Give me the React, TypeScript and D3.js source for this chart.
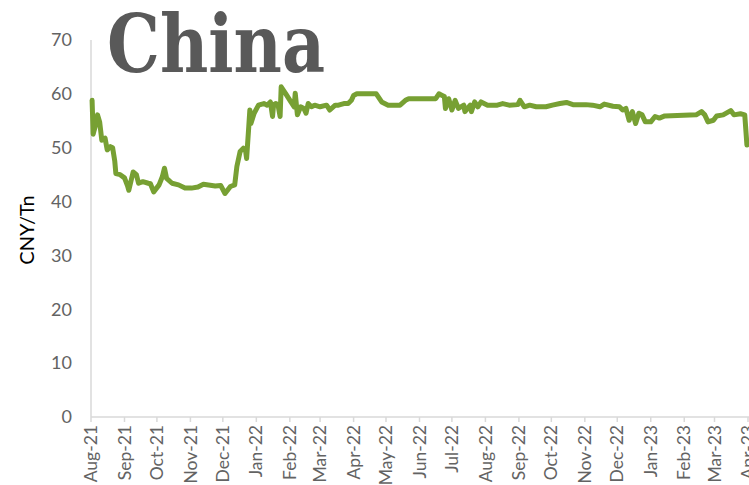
import React from "react";
import * as d3 from "d3";

const dates: string[] = [
  "2021-08-02","2021-08-03","2021-08-04","2021-08-05","2021-08-07","2021-08-09","2021-08-11","2021-08-14","2021-08-16","2021-08-19","2021-08-21","2021-08-23","2021-08-24","2021-08-28",
  "2021-09-01","2021-09-04","2021-09-05","2021-09-09","2021-09-12","2021-09-14","2021-09-18","2021-09-23","2021-09-25","2021-09-28",
  "2021-10-03","2021-10-06","2021-10-08","2021-10-10","2021-10-15","2021-10-21","2021-10-27",
  "2021-11-02","2021-11-08","2021-11-13","2021-11-24","2021-11-29",
  "2021-12-03","2021-12-08","2021-12-12","2021-12-14","2021-12-17","2021-12-20","2021-12-22","2021-12-23","2021-12-25","2021-12-26","2021-12-27","2021-12-30",
  "2022-01-03","2022-01-08","2022-01-11","2022-01-14","2022-01-16","2022-01-17","2022-01-19","2022-01-21","2022-01-23","2022-01-24","2022-01-28",
  "2022-02-02","2022-02-05","2022-02-06","2022-02-08","2022-02-11","2022-02-14","2022-02-16","2022-02-18","2022-02-21","2022-02-24",
  "2022-03-01","2022-03-07","2022-03-10","2022-03-15","2022-03-18","2022-03-23","2022-03-27","2022-03-30",
  "2022-04-01","2022-04-04","2022-04-22","2022-04-27",
  "2022-05-03","2022-05-14","2022-05-19","2022-05-22",
  "2022-06-16","2022-06-19","2022-06-22","2022-06-24","2022-06-25","2022-06-28",
  "2022-07-01","2022-07-04","2022-07-07","2022-07-12","2022-07-13","2022-07-18","2022-07-19","2022-07-22","2022-07-25","2022-07-28",
  "2022-08-03","2022-08-12","2022-08-17","2022-08-23","2022-08-31",
  "2022-09-02","2022-09-06","2022-09-11","2022-09-17","2022-09-26",
  "2022-10-02","2022-10-09","2022-10-15","2022-10-21",
  "2022-11-02","2022-11-08","2022-11-15","2022-11-19","2022-11-27",
  "2022-12-03","2022-12-06","2022-12-09","2022-12-12","2022-12-15","2022-12-18","2022-12-21","2022-12-24","2022-12-27",
  "2023-01-01","2023-01-05","2023-01-09","2023-01-14",
  "2023-02-12","2023-02-17","2023-02-20","2023-02-23","2023-02-28",
  "2023-03-03","2023-03-09","2023-03-16","2023-03-19","2023-03-25","2023-03-29","2023-03-31"
];

const prices: number[] = [
  58.8,52.5,53.3,54.0,56.1,54.8,51.4,51.8,49.6,50.2,50.0,47.5,45.2,45.0,
  44.4,42.8,42.1,45.5,45.0,43.4,43.7,43.4,43.3,41.8,
  43.1,44.6,46.2,44.3,43.4,43.1,42.5,
  42.5,42.7,43.2,42.9,43.0,
  41.5,42.8,43.1,46.5,49.3,49.9,49.5,48.0,53.9,57.0,54.5,56.4,
  57.9,58.2,57.9,58.5,55.8,58.0,58.2,58.0,55.8,61.3,60.1,
  58.5,57.6,60.1,56.1,57.6,57.3,56.4,58.2,57.6,57.9,
  57.6,57.9,57.0,57.9,57.9,58.2,58.2,58.8,
  59.7,60.0,60.0,58.5,
  57.9,57.9,58.8,59.1,
  59.1,60.0,59.7,59.5,57.3,59.1,
  57.0,58.8,57.3,57.9,56.7,57.9,56.7,58.5,57.6,58.5,
  57.9,57.9,58.2,57.9,58.0,
  58.8,57.6,57.9,57.6,57.6,
  57.9,58.2,58.4,58.0,
  58.0,57.9,57.6,58.1,57.7,
  57.6,57.0,57.3,55.1,56.7,54.5,56.4,56.1,54.8,
  54.8,55.8,55.5,55.9,
  56.1,56.7,56.1,54.8,55.1,
  55.9,56.1,56.9,56.1,56.3,56.1,50.5
];

const yTicks: number[] = [0, 10, 20, 30, 40, 50, 60, 70];
const xTickMonths: string[] = [
  "2021-08-01","2021-09-01","2021-10-01","2021-11-01","2021-12-01",
  "2022-01-01","2022-02-01","2022-03-01","2022-04-01","2022-05-01","2022-06-01",
  "2022-07-01","2022-08-01","2022-09-01","2022-10-01","2022-11-01","2022-12-01",
  "2023-01-01","2023-02-01","2023-03-01","2023-04-01"
];
const title = "China";
const yLabel = "CNY/Tn";

const W = 749;
const H = 485;
const left = 91;
const right = 748;
const top = 40;
const bottom = 417;

export default function App() {
  const parse = d3.timeParse("%Y-%m-%d");
  const fmt = d3.timeFormat("%b-%y");
  const x = d3
    .scaleTime()
    .domain([parse("2021-08-01")!, parse("2023-04-01")!])
    .range([left, right]);
  const y = d3.scaleLinear().domain([0, 70]).range([bottom, top]);
  const data = dates.map((d, i) => ({ date: parse(d)!, value: prices[i] }));
  const line = d3
    .line<{ date: Date; value: number }>()
    .x((d) => x(d.date))
    .y((d) => y(d.value))
    .curve(d3.curveLinear);
  const ticks = xTickMonths.map((m) => parse(m)!);
  const tickFont = "Lato, 'Open Sans', sans-serif";

  return (
    <svg
      width={W}
      height={H}
      style={{ position: "absolute", left: 0, top: 0, display: "block", background: "#fff" }}
    >
      <text
        x={107}
        y={72}
        fontFamily="'DejaVu Serif', 'Liberation Serif', serif"
        fontWeight="bold"
        fontSize={80}
        fill="#595959"
        textLength={218}
        lengthAdjust="spacingAndGlyphs"
      >
        {title}
      </text>
      <line x1={left} x2={left} y1={top} y2={bottom} stroke="#d9d9d9" strokeWidth={1.5} />
      <line x1={left} x2={W} y1={bottom} y2={bottom} stroke="#d9d9d9" strokeWidth={1.5} />
      {yTicks.map((t) => (
        <text
          key={t}
          x={72}
          y={y(t)}
          dy="0.35em"
          textAnchor="end"
          fontFamily={tickFont}
          fontSize={18}
          fill="#636363"
        >
          {t}
        </text>
      ))}
      {ticks.map((t, i) => (
        <g key={i} transform={`translate(${x(t)},${bottom})`}>
          <line y1={0} y2={5} stroke="#d9d9d9" strokeWidth={1.5} />
          <text
            transform="rotate(-90)"
            x={-8}
            y={0}
            dy="0.35em"
            textAnchor="end"
            fontFamily={tickFont}
            fontSize={17.5}
            fill="#636363"
          >
            {fmt(t)}
          </text>
        </g>
      ))}
      <text
        transform={`translate(34,230) rotate(-90)`}
        textAnchor="middle"
        fontFamily={tickFont}
        fontSize={20}
        fill="#000"
      >
        {yLabel}
      </text>
      <path
        d={line(data) || ""}
        fill="none"
        stroke="#77A033"
        strokeWidth={5}
        strokeLinejoin="round"
        strokeLinecap="round"
      />
    </svg>
  );
}
